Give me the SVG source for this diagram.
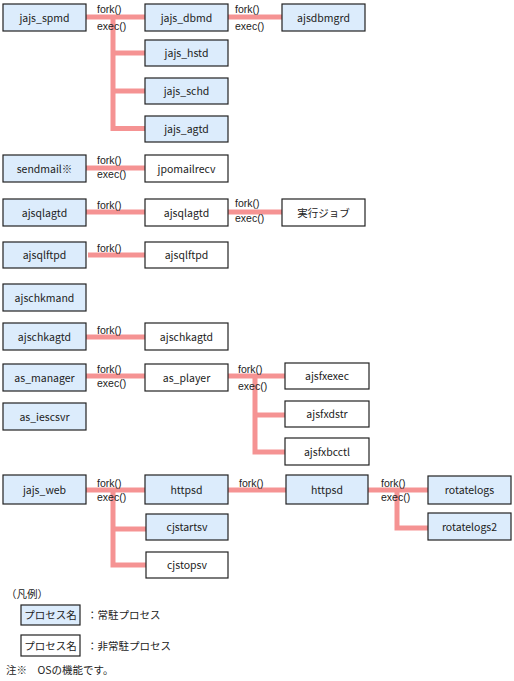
<svg xmlns="http://www.w3.org/2000/svg" width="514" height="681" viewBox="0 0 514 681">
<style>
text{font-family:"Noto Sans CJK JP","DejaVu Sans",sans-serif;font-size:10.5px;fill:#222}
#labels text{font-family:"Liberation Sans","Noto Sans CJK JP",sans-serif;font-size:10.5px}
.b rect{fill:#dcecfc;stroke:#222;stroke-width:1.2}
.w rect{fill:#ffffff;stroke:#222;stroke-width:1.2}
.n text{text-anchor:middle}
#connectors path{fill:none;stroke:#f59393;stroke-width:5}
</style>
<rect width="514" height="681" fill="#fff"/>
<g id="connectors">
<path d="M86 17H145M113 17V128.5H145M113 53H145M113 91H145"/>
<path d="M228 17H282"/>
<path d="M86 168H145"/>
<path d="M86 212H145M228 212H282"/>
<path d="M88 255H145"/>
<path d="M86 337H145"/>
<path d="M86 376H145"/>
<path d="M228 376H285M255 376V452H285M255 415H285"/>
<path d="M86 490H145M113 490V565H146M113 529H146"/>
<path d="M228 490H286"/>
<path d="M368 490H428M397 490V528H428"/>
</g>
<g id="labels">
<text x="97" y="13">fork()</text><text x="97" y="30">exec()</text>
<text x="235" y="13">fork()</text><text x="235" y="30">exec()</text>
<text x="97" y="164">fork()</text><text x="97" y="178">exec()</text>
<text x="97" y="209">fork()</text>
<text x="235" y="207">fork()</text><text x="235" y="222">exec()</text>
<text x="97" y="252">fork()</text>
<text x="97" y="334">fork()</text>
<text x="97" y="373">fork()</text><text x="97" y="387">exec()</text>
<text x="238" y="373">fork()</text><text x="238" y="390">exec()</text>
<text x="97" y="487">fork()</text><text x="97" y="501">exec()</text>
<text x="239" y="487">fork()</text>
<text x="381" y="487">fork()</text><text x="381" y="501">exec()</text>
</g>
<g id="jajs_spmd" class="n b"><rect x="3" y="4" width="83" height="27"/><text x="44.5" y="21.5">jajs_spmd</text></g>
<g id="jajs_dbmd" class="n b"><rect x="145" y="4" width="83" height="27"/><text x="186.5" y="21.5">jajs_dbmd</text></g>
<g id="ajsdbmgrd" class="n b"><rect x="282" y="4" width="83" height="27"/><text x="323.5" y="21.5">ajsdbmgrd</text></g>
<g id="jajs_hstd" class="n b"><rect x="145" y="40" width="83" height="26"/><text x="186.5" y="57">jajs_hstd</text></g>
<g id="jajs_schd" class="n b"><rect x="145" y="78" width="83" height="26"/><text x="186.5" y="95">jajs_schd</text></g>
<g id="jajs_agtd" class="n b"><rect x="145" y="116" width="83" height="26"/><text x="186.5" y="133">jajs_agtd</text></g>
<g id="sendmail" class="n b"><rect x="3" y="155" width="83" height="27"/><text x="44.5" y="172.5">sendmail※</text></g>
<g id="jpomailrecv" class="n w"><rect x="145" y="155" width="83" height="27"/><text x="186.5" y="172.5">jpomailrecv</text></g>
<g id="ajsqlagtd" class="n b"><rect x="3" y="199" width="83" height="27"/><text x="44.5" y="216.5">ajsqlagtd</text></g>
<g id="ajsqlagtd2" class="n w"><rect x="145" y="199" width="83" height="27"/><text x="186.5" y="216.5">ajsqlagtd</text></g>
<g id="job" class="n w"><rect x="282" y="199" width="83" height="27"/><text x="323.5" y="216.5">実行ジョブ</text></g>
<g id="ajsqlftpd" class="n b"><rect x="3" y="242" width="83" height="26"/><text x="44.5" y="259">ajsqlftpd</text></g>
<g id="ajsqlftpd2" class="n w"><rect x="145" y="242" width="83" height="26"/><text x="186.5" y="259">ajsqlftpd</text></g>
<g id="ajschkmand" class="n b"><rect x="3" y="284" width="83" height="27"/><text x="44.5" y="301.5">ajschkmand</text></g>
<g id="ajschkagtd" class="n b"><rect x="3" y="323" width="83" height="27"/><text x="44.5" y="340.5">ajschkagtd</text></g>
<g id="ajschkagtd2" class="n w"><rect x="145" y="323" width="83" height="27"/><text x="186.5" y="340.5">ajschkagtd</text></g>
<g id="as_manager" class="n b"><rect x="3" y="364" width="83" height="27"/><text x="44.5" y="381.5">as_manager</text></g>
<g id="as_player" class="n w"><rect x="145" y="364" width="83" height="27"/><text x="186.5" y="381.5">as_player</text></g>
<g id="as_iescsvr" class="n b"><rect x="3" y="403" width="83" height="27"/><text x="44.5" y="420.5">as_iescsvr</text></g>
<g id="ajsfxexec" class="n w"><rect x="285" y="363" width="84" height="26"/><text x="327" y="380">ajsfxexec</text></g>
<g id="ajsfxdstr" class="n w"><rect x="285" y="401" width="84" height="26"/><text x="327" y="418">ajsfxdstr</text></g>
<g id="ajsfxbcctl" class="n w"><rect x="285" y="438" width="84" height="27"/><text x="327" y="455.5">ajsfxbcctl</text></g>
<g id="jajs_web" class="n b"><rect x="3" y="475" width="83" height="29"/><text x="44.5" y="493.5">jajs_web</text></g>
<g id="httpsd" class="n b"><rect x="145" y="475" width="83" height="29"/><text x="186.5" y="493.5">httpsd</text></g>
<g id="cjstartsv" class="n b"><rect x="146" y="514" width="82" height="26"/><text x="187" y="531">cjstartsv</text></g>
<g id="cjstopsv" class="n w"><rect x="146" y="552" width="82" height="26"/><text x="187" y="569">cjstopsv</text></g>
<g id="httpsd2" class="n b"><rect x="286" y="475" width="82" height="29"/><text x="327" y="493.5">httpsd</text></g>
<g id="rotatelogs" class="n b"><rect x="428" y="476" width="83" height="28"/><text x="469.5" y="494">rotatelogs</text></g>
<g id="rotatelogs2" class="n b"><rect x="428" y="513" width="83" height="27"/><text x="469.5" y="530.5">rotatelogs2</text></g>
<g id="legend">
<text x="6" y="598">（凡例）</text>
<g class="n b"><rect x="21" y="605" width="59" height="20"/><text x="50.5" y="619">プロセス名</text></g>
<text x="87" y="619">：常駐プロセス</text>
<g class="n w"><rect x="21" y="635" width="59" height="21"/><text x="50.5" y="649.5">プロセス名</text></g>
<text x="87" y="649.5">：非常駐プロセス</text>
<text x="6" y="674">注※　OSの機能です。</text>
</g>
</svg>
